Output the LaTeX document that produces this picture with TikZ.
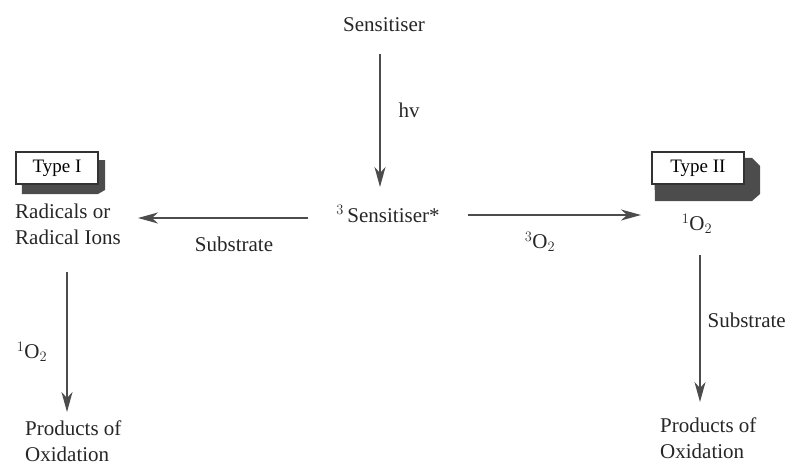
\documentclass[tikz,border=0pt]{standalone}
\usepackage{fontspec}
\setmainfont{Liberation Serif}
\usetikzlibrary{arrows.meta}
\begin{document}
\begin{tikzpicture}[x=1pt,y=-1pt,
  lbl/.style={font=\fontsize{21}{26}\selectfont, inner sep=0pt, text=black!85},
  arr/.style={draw=black!70, line width=1.8pt, -{Stealth[length=20pt,width=11pt,inset=6pt]}},
  typebox/.style={draw=black!80, line width=1.5pt, fill=white, minimum width=82pt, minimum height=32pt, font=\fontsize{19}{22}\selectfont, inner sep=0pt}]
\useasboundingbox (0,0) rectangle (787,468);
% nodes
\node[lbl] (sens) at (384,25) {Sensitiser};
\node[lbl] (hv) at (409,110) {hv};
\node[lbl] (tsens) at (388,214) {$^{3}$\,Sensitiser*};
\coordinate (vtop) at (380,54);
\coordinate (vbot) at (380,187);
\coordinate (lstart) at (308,218);
\coordinate (lend) at (138,218);
\coordinate (rstart) at (468,215);
\coordinate (rend) at (641,215);
\node[lbl] (subl) at (234,244) {Substrate};
\node[lbl] (o3) at (540,242) {$^{3}$O$_{2}$};
% Type I box
\fill[black!70] (21,160) -- (64,160) -- (105,160) -- (105,190) -- (98,194) -- (22,194) -- cycle;
\node[typebox] (t1) at (57,168) {Type I};
\fill[black!70] (654,158) -- (752,158) -- (760,166) -- (760,194) -- (752,201) -- (655,201) -- cycle;
\node[typebox, minimum width=92pt] (t2) at (698,168) {Type II};
\node[lbl, align=left, anchor=west] (rad) at (15,224) {Radicals or\\Radical Ions};
\node[lbl] (o1r) at (697,224) {$^{1}$O$_{2}$};
\coordinate (ldtop) at (67,272);
\coordinate (ldbot) at (67,412);
\node[lbl] (o1l) at (32,352) {$^{1}$O$_{2}$};
\coordinate (rdtop) at (700,255);
\coordinate (rdbot) at (700,402);
\node[lbl, anchor=east] (subr) at (786,320) {Substrate};
\node[lbl, align=left, anchor=west] (pl) at (25,441) {Products of\\Oxidation};
\node[lbl, align=left, anchor=west] (pr) at (660,438) {Products of\\Oxidation};
% arrows
\draw[arr] (vtop) -- (vbot);
\draw[arr] (lstart) -- (lend);
\draw[arr] (rstart) -- (rend);
\draw[arr] (ldtop) -- (ldbot);
\draw[arr] (rdtop) -- (rdbot);
\end{tikzpicture}
\end{document}
